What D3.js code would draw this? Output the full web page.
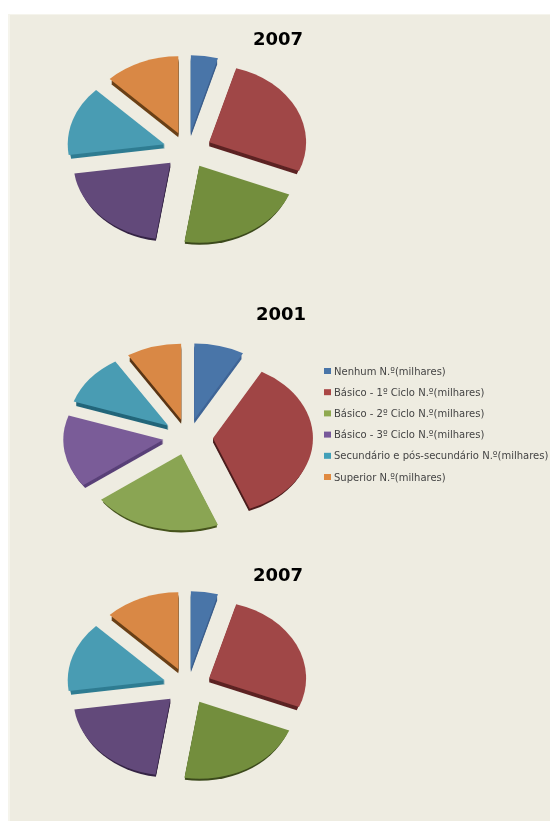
<!DOCTYPE html>
<html>
<head>
<meta charset="utf-8">
<script src="https://cdn.jsdelivr.net/npm/d3@7"></script>
<style>
html,body{margin:0;padding:0;background:#fff;overflow:hidden;}
</style>
</head>
<body>
<div id="chart"></div>
<script>
const categories = ['Nenhum N.º(milhares)','Básico - 1º Ciclo N.º(milhares)','Básico - 2º Ciclo N.º(milhares)','Básico - 3º Ciclo N.º(milhares)','Secundário e pós-secundário N.º(milhares)','Superior N.º(milhares)'];
const values2007 = [4.5,26.6,21.3,20.3,14.7,12.5];
const values2001 = [8.1,35.9,20.8,15.4,10.9,8.9];
const colors2007 = ['#4a74a8','#a04646','#738e3e','#62497a','#4a9cb3','#d98844'];
const colors2001 = ['#4a74a8','#a04444','#8aa552','#7a5c98','#4a9cb3','#d98844'];
const sides2007 = ['#3c5f8c','#5c2424','#3c4a1c','#352545','#2f7c92','#6a4018'];
const sides2001 = ['#3f6596','#4c1e1e','#46541f','#5a4078','#22667a','#5a3614'];
const keyColors = ['#4a74a8','#aa4644','#8fa94f','#77589a','#43a0b8','#e08a40'];

const W = 550, H = 821;

const svg = d3.select('#chart').append('svg')
	.attr('width', W)
	.attr('height', H);

const defs = svg.append('defs');
defs.append('filter').attr('id','soft')
	.append('feGaussianBlur').attr('stdDeviation',0.7);
defs.append('filter').attr('id','softText')
	.append('feGaussianBlur').attr('stdDeviation',0.4);

svg.append('rect')
	.attr('x',8).attr('y',14)
	.attr('width',W-8).attr('height',H-14)
	.attr('fill','#f5f4ec');
svg.append('rect')
	.attr('x',10).attr('y',15)
	.attr('width',W-10).attr('height',H-15)
	.attr('fill','#eeece1');

////////////////////////////////////////////////////////////////////

function drawPie(opt){
	const r = 100;
	const sy = opt.ry/opt.rx;
	const k = opt.rx/r;
	const pie = d3.pie().sort(null).value(d=>d);
	const slices = pie(opt.values);
	const arc = d3.arc().innerRadius(0).outerRadius(r);
	const arcSide = d3.arc().innerRadius(0).outerRadius(r-2.5);

	const g = svg.append('g').attr('filter','url(#soft)');

	const sliceG = g.selectAll('.slice')
		.data(slices)
		.enter().append('g')
		.attr('class','slice')
		.attr('transform',function(d){
			const mid = (d.startAngle+d.endAngle)/2;
			const x = opt.cx + opt.explodeX*Math.sin(mid);
			const y = opt.cy - opt.explodeY*Math.cos(mid);
			return `translate(${x},${y})`;
		});

	[4,3,2,1].forEach(function(dy){
		sliceG.append('path')
			.attr('transform',`translate(0,${dy}) scale(${k},${k*sy})`)
			.attr('d',arcSide)
			.attr('fill',(d,i)=>opt.sides[i]);
	});

	sliceG.append('path')
		.attr('transform',`scale(${k},${k*sy})`)
		.attr('d',arc)
		.attr('fill',(d,i)=>opt.colors[i]);

	svg.append('text')
		.attr('x',opt.titleX)
		.attr('y',opt.titleY)
		.attr('text-anchor','middle')
		.attr('font-family','DejaVu Sans')
		.attr('font-weight','bold')
		.attr('font-size',18)
		.attr('fill','#000')
		.attr('filter','url(#softText)')
		.text(opt.title);
}

drawPie({title:'2007',values:values2007,colors:colors2007,sides:sides2007,cx:187.5,cy:150,rx:97,ry:77,explodeX:24,explodeY:18,titleX:278,titleY:45});
drawPie({title:'2001',values:values2001,colors:colors2001,sides:sides2001,cx:188,cy:437,rx:100,ry:76,explodeX:25,explodeY:18,titleX:281,titleY:319.5});
drawPie({title:'2007',values:values2007,colors:colors2007,sides:sides2007,cx:187.5,cy:686,rx:97,ry:77,explodeX:24,explodeY:18,titleX:278,titleY:581});

////////////////////////////////////////////////////////////////////

const legendY = d3.scalePoint().domain(categories).range([371,477]);

const legend = svg.append('g').attr('filter','url(#softText)');

legend.selectAll('rect')
	.data(categories)
	.enter().append('rect')
	.attr('x',324)
	.attr('y',d=>legendY(d)-3)
	.attr('width',7)
	.attr('height',6)
	.attr('fill',(d,i)=>keyColors[i]);

legend.selectAll('text')
	.data(categories)
	.enter().append('text')
	.attr('x',334)
	.attr('y',d=>legendY(d)+3.5)
	.attr('font-family','DejaVu Sans')
	.attr('font-size',10)
	.attr('fill','#444')
	.text(d=>d);
</script>
</body>
</html>
